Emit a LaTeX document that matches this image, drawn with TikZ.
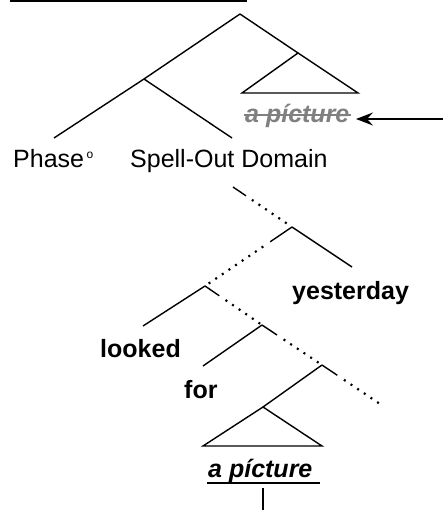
\documentclass[tikz,border=0pt]{standalone}
\usepackage{fontspec}
\setmainfont{Liberation Sans}
\usetikzlibrary{arrows.meta,calc}
\definecolor{strikegray}{RGB}{128,128,128}
\tikzset{
  branch/.style={line width=1.4pt},
  dotbranch/.style={line width=2.2pt, line cap=butt, dash pattern=on 2pt off 6pt},
  lbl/.style={inner sep=0pt, anchor=base west, font=\fontsize{25}{30}\selectfont},
  blbl/.style={lbl, font=\fontsize{25}{30}\selectfont\bfseries},
}
\begin{document}
\begin{tikzpicture}[x=1pt,y=-1pt]
\useasboundingbox (0,0) rectangle (443,510);
% top line (clipped underline)
\coordinate (tl) at (10,0.8);
\coordinate (tr) at (247,0.8);
\draw[line width=1.8pt] (tl) -- (tr);
% upper tree
\coordinate (R) at (240,14);
\coordinate (A) at (298,53);
\coordinate (Al) at (242,93);
\coordinate (Ar) at (358,93);
\coordinate (B) at (144,79);
\coordinate (Bl) at (54,138);
\coordinate (Br) at (232,138);
\draw[branch] (R) -- (A);
\draw[branch,line join=miter] (A) -- (Al) -- (Ar) -- cycle;
\draw[branch] (R) -- (B);
\draw[branch] (B) -- (Bl);
\draw[branch] (B) -- (Br);
% gray struck-out copy
\node[lbl, text=strikegray, font=\fontsize{25}{30}\selectfont\bfseries\itshape] (gp) at (245,123) {a pícture};
\draw[strikegray, line width=2pt] ([xshift=-1pt]gp.west |- 0,115.5) coordinate (s1) -- ([xshift=1pt]gp.east |- 0,115.5) coordinate (s2);
\coordinate (arrowstart) at (443,119);
\coordinate (arrowend) at (356,119);
\draw[line width=1.4pt, -{Stealth[length=17pt,width=13pt,inset=6pt]}] (arrowstart) -- (arrowend);
% labels
\node[lbl] (phase) at (13,168) {Phase\hspace{2.5pt}\raisebox{9.5pt}{\fontsize{12}{12}\selectfont o}};
\node[lbl] (sod) at (130,168) {Spell-Out Domain};
% lower tree
\coordinate (S0) at (233,187);
\coordinate (N1) at (292,227);
\coordinate (N1r) at (352,267);
\coordinate (N2) at (205,286);
\coordinate (N2l) at (143,326);
\coordinate (N3) at (262,325);
\coordinate (N3l) at (203,366);
\coordinate (N4) at (322,365);
\coordinate (N4r) at (383,406);
\coordinate (T) at (263,407);
\coordinate (Tl) at (203,446);
\coordinate (Tr) at (322,446);
% dotted branches with solid stubs
\draw[branch] (S0) -- ($(S0)!0.22!(N1)$);
\draw[dotbranch] ($(S0)!0.32!(N1)$) -- ($(S0)!0.95!(N1)$);
\draw[branch] (N1) -- ($(N1)!0.25!(N2)$);
\draw[dotbranch] ($(N1)!0.33!(N2)$) -- (N2);
\draw[branch] (N2) -- ($(N2)!0.25!(N3)$);
\draw[dotbranch] ($(N2)!0.36!(N3)$) -- (N3);
\draw[branch] (N3) -- ($(N3)!0.25!(N4)$);
\draw[dotbranch] ($(N3)!0.36!(N4)$) -- (N4);
\draw[branch] (N4) -- ($(N4)!0.25!(N4r)$);
\draw[dotbranch] ($(N4)!0.36!(N4r)$) -- (N4r);
% solid branches
\draw[branch] (N1) -- (N1r);
\draw[branch] (N2) -- (N2l);
\draw[branch] (N3) -- (N3l);
\draw[branch] (N4) -- (T);
\draw[branch,line join=miter] (T) -- (Tl) -- (Tr) -- cycle;
% lower labels
\node[blbl] (yest) at (292,299) {yesterday};
\node[blbl] (looked) at (100,357) {looked};
\node[blbl] (for) at (184,398) {for};
\node[lbl, font=\fontsize{25}{30}\selectfont\bfseries\itshape] (ap) at (208,477) {a pícture};
\coordinate (u1) at (207,483);
\coordinate (u2) at (320,483);
\draw[line width=2pt] (u1) -- (u2);
\coordinate (v1) at (263,488);
\coordinate (v2) at (263,511);
\draw[branch] (v1) -- (v2);
\end{tikzpicture}
\end{document}
